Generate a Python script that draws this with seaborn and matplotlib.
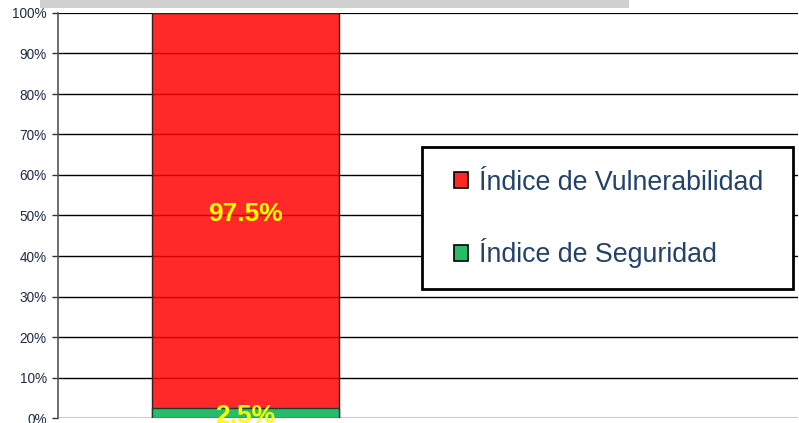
import matplotlib
matplotlib.use("Agg")
import matplotlib.pyplot as plt
from matplotlib.patches import Patch, Rectangle
import seaborn as sns
import pandas as pd

# Data
categorias = ["Resultado"]
indice_seguridad = [2.5]
indice_vulnerabilidad = [97.5]
series = ["Índice de Vulnerabilidad", "Índice de Seguridad"]
yticks = list(range(0, 101, 10))

color_vuln = (1.0, 0.01, 0.01, 0.85)
color_seg = "#27bd68"
texto_eje = "#1f2a48"
texto_leyenda = "#23426b"

sns.set_theme(style="white")
plt.rcParams["font.family"] = ["Liberation Sans", "DejaVu Sans"]

df = pd.DataFrame({
    "cat": categorias,
    "seg": indice_seguridad,
    "vuln": indice_vulnerabilidad,
})
df["total"] = df["seg"] + df["vuln"]

fig = plt.figure(figsize=(7.99, 4.23), dpi=100)
ax = fig.add_axes([58 / 799, 5 / 423, 740 / 799, 405 / 423])

# stacked bar: total first (red), safety share on top of it (green)
sns.barplot(data=df, x="cat", y="total", color="red", width=0.5,
            edgecolor="#3a1a1a", linewidth=1.0, ax=ax, zorder=3)
sns.barplot(data=df, x="cat", y="seg", color=color_seg, width=0.5,
            edgecolor="#1f3a2a", linewidth=1.0, ax=ax, zorder=4)
for p in ax.patches[:1]:
    p.set_facecolor(color_vuln)
for p in ax.patches[1:]:
    p.set_facecolor(color_seg)

ax.set_xlim(-0.5013, 1.477)
ax.set_ylim(0, 100)
ax.set_yticks(yticks)
ax.set_yticklabels([f"{v}%" for v in yticks], fontsize=9.8, color=texto_eje)
ax.set_xticks([])
ax.set_xlabel("")
ax.set_ylabel("")
ax.tick_params(axis="y", left=True, length=4, width=1, color="#333333", pad=4)

for v in yticks:
    ax.axhline(v, color="black", linewidth=1.0 if v < 100 else 1.6, zorder=1)

for side in ["top", "right", "bottom"]:
    ax.spines[side].set_visible(False)
ax.spines["left"].set_color("#555555")
ax.spines["left"].set_linewidth(1.2)

# value labels
for i in range(len(df)):
    seg = df["seg"].iloc[i]
    vuln = df["vuln"].iloc[i]
    ax.annotate(f"{vuln}%", (i, seg + vuln / 2), xytext=(0, -2.5),
                textcoords="offset points", ha="center", va="center",
                fontsize=19, fontweight="bold", color="#ffff00", zorder=6)
    ax.annotate(f"{seg}%", (i, seg / 2), xytext=(0, -2.5),
                textcoords="offset points", ha="center", va="center",
                fontsize=19, fontweight="bold", color="#ffff00", zorder=6,
                annotation_clip=False)

# legend with framed box
handles = [Patch(facecolor="#ff2626", edgecolor="black", linewidth=1.2),
           Patch(facecolor=color_seg, edgecolor="black", linewidth=1.2)]
leg = ax.legend(handles, series, loc="center left",
                bbox_to_anchor=((430 - 58) / 740, (418 - 219) / 405),
                frameon=False, fontsize=19.3, handlelength=0.52,
                handleheight=0.52, handletextpad=0.4, labelspacing=1.6)
for t in leg.get_texts():
    t.set_color(texto_leyenda)
leg.set_zorder(8)
ax.add_patch(Rectangle(((422 - 58) / 740, (418 - 289) / 405),
                       (793 - 422) / 740, (289 - 147) / 405,
                       transform=ax.transAxes, facecolor="white",
                       edgecolor="black", linewidth=2, zorder=7))

# grey strip along the top edge
fig.patches.append(Rectangle((40 / 799, 1 - 8 / 423), (629 - 40) / 799, 8 / 423,
                             transform=fig.transFigure, facecolor="#d0d0d0",
                             edgecolor="none", zorder=0))

fig.savefig("out.png", dpi=100)
